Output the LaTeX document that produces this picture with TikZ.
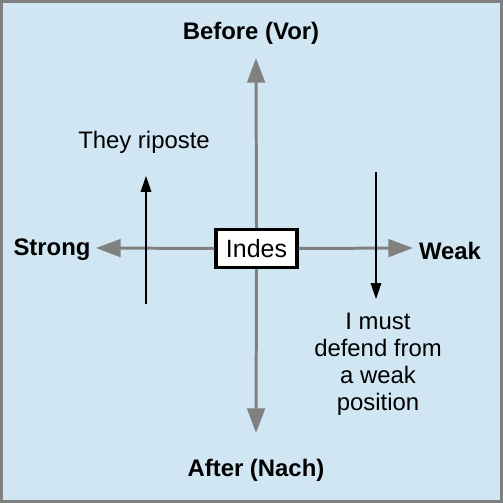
\documentclass[tikz,border=0pt]{standalone}
\usepackage{fontspec}
\setmainfont{Liberation Sans}
\usetikzlibrary{arrows.meta}
\definecolor{fondo}{RGB}{208,230,243}
\definecolor{gris}{RGB}{128,128,128}
\tikzset{
  eje/.style={draw=gris, line width=1.7pt, -{Triangle[length=14pt, width=10pt]}},
  flecha/.style={draw=black, line width=0.8pt, -{Triangle[length=9pt, width=6pt]}},
  rotulo/.style={font=\fontsize{13.6}{15}\selectfont\bfseries, inner sep=0pt},
  texto/.style={font=\fontsize{13.6}{15.3}\selectfont, inner sep=0pt, align=center}
}
\begin{document}
\begin{tikzpicture}[x=0.02cm, y=-0.02cm]

\useasboundingbox (0,0) rectangle (503,503);
\draw[gris, fill=fondo, line width=1.7pt] (1.5,1.5) rectangle (501.5,501.5);

\node[draw, fill=white, line width=2pt, inner sep=0pt,
      minimum width=46pt, minimum height=21.5pt, font=\fontsize{14.2}{15}\selectfont] (I) at (256.5,248.5) {Indes};

% Ejes principales
	\coordinate (N) at (256,58);
	\coordinate (S) at (256,433);
	\coordinate (O) at (96,248);
	\coordinate (E) at (413,248);
	\draw[eje] (I.north) -- (N);
	\draw[eje] (I.south) -- (S);
	\draw[eje] (I.west) -- (O);
	\draw[eje] (I.east) -- (E);

	\node[rotulo] (Vor)  at (251,33)  {Before (Vor)};
	\node[rotulo] (Nach) at (256,470) {After (Nach)};
	\node[rotulo] (St)   at (52,250)  {Strong};
	\node[rotulo] (Wk)   at (450,251) {Weak};

% Flechas auxiliares
	\node[texto] (R) at (144,142) {They riposte};
	\node[texto] (D) at (378,364) {I must\\defend from\\a weak\\position};

	\coordinate (R0) at (146,304);
	\coordinate (R1) at (146,176);
	\coordinate (D0) at (376,172);
	\coordinate (D1) at (376,299);
	\draw[flecha] (R0) -- (R1);
	\draw[flecha] (D0) -- (D1);
\end{tikzpicture}
\end{document}
